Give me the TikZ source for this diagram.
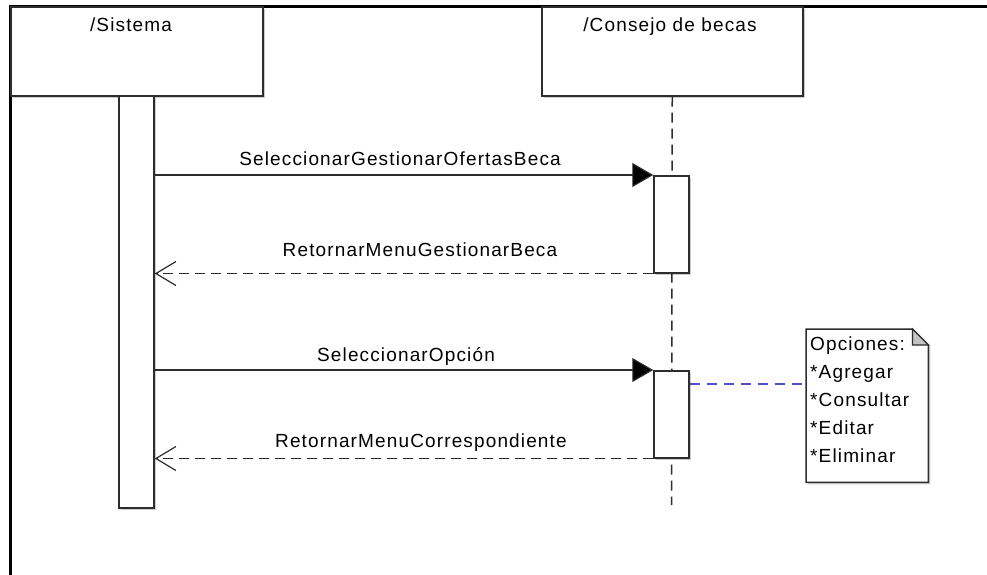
\documentclass[tikz,border=0pt]{standalone}
\usepackage{fontspec}
\setmainfont{Liberation Sans}[LetterSpace=6]
\usetikzlibrary{arrows.meta,shadows}
\definecolor{edge}{RGB}{45,45,45}
\definecolor{notelink}{RGB}{80,80,200}
\definecolor{fold}{RGB}{195,195,195}
\begin{document}
\begin{tikzpicture}[x=1pt,y=-1pt,
  lbl/.style={font=\fontsize{19}{28}\selectfont, inner sep=0pt},
  boxshadow/.style={drop shadow={shadow xshift=2pt, shadow yshift=-2pt, opacity=0.2, fill=black}},
  lifebox/.style={draw=edge, line width=1.5pt, fill=white, inner sep=0pt, boxshadow},
  actbar/.style={draw=edge, line width=1.5pt, fill=white, inner sep=0pt, minimum width=35pt, boxshadow},
  lifeline/.style={draw=edge, line width=1.5pt, dash pattern=on 10pt off 6pt},
  call/.style={draw=edge, line width=1.2pt, -{Triangle[length=21pt,width=24pt,fill=black]}},
  reply/.style={draw=edge, line width=1.2pt, dash pattern=on 10pt off 6pt, -{Straight Barb[length=20pt,width=24pt,line width=1.2pt]}},
  notelinestyle/.style={draw=notelink, line width=1.2pt, dash pattern=on 10pt off 7pt}]
\useasboundingbox (0,0) rectangle (987,574);
\fill[white] (0,0) rectangle (987,574);

% outer frame: left and top sides
\draw[line width=3pt] (10.5,580) -- (10.5,6) -- (995,6);

% participants
\node[lifebox, minimum width=252pt, minimum height=89pt, anchor=north west] (sis) at (10,6) {};
\node[lifebox, minimum width=261pt, minimum height=89pt, anchor=north west] (cons) at (541,6) {};
\node[lbl, anchor=base] (sislbl) at (131,31.5) {/Sistema};
\node[lbl, anchor=base] (conslbl) at (670,31.5) {/Consejo de becas};

% lifeline of the board
\coordinate (consend) at (671.5,505);
\draw[lifeline] (cons.south) -- (consend);

% activation bars
\node[actbar, minimum height=412pt, anchor=north] (sisact) at (136.5,95) {};
\node[actbar, minimum height=97pt, anchor=north] (act1) at (671.5,175) {};
\node[actbar, minimum height=87pt, anchor=north] (act2) at (671.5,370) {};

% messages
\draw[call] (sisact.east |- act1.north west) -- (act1.north west)
  node[lbl, pos=0.492, anchor=base, yshift=10pt] (m1) {SeleccionarGestionarOfertasBeca};
\draw[reply] (act1.south west) -- (sisact.east |- act1.south west)
  node[lbl, pos=0.468, anchor=base, yshift=17pt] (m2) {RetornarMenuGestionarBeca};
\draw[call] (sisact.east |- act2.north west) -- (act2.north west)
  node[lbl, pos=0.504, anchor=base, yshift=9pt] (m3) {SeleccionarOpción};
\draw[reply] (act2.south west) -- (sisact.east |- act2.south west)
  node[lbl, pos=0.466, anchor=base, yshift=11pt] (m4) {RetornarMenuCorrespondiente};

% note with folded corner
\node[minimum width=122pt, minimum height=153pt, inner sep=0pt, anchor=north west] (note) at (806,329) {};
\fill[black, opacity=0.18] ([shift={(2,2)}]note.north west) -- ([shift={(-14,2)}]note.north east) -- ([shift={(2,18)}]note.north east)
  -- ([shift={(2,2)}]note.south east) -- ([shift={(2,2)}]note.south west) -- cycle;
\draw[draw=edge, line width=1.5pt, fill=white] (note.north west) -- ([xshift=-16pt]note.north east) -- ([yshift=-16pt]note.north east)
  -- (note.south east) -- (note.south west) -- cycle;
\draw[draw=edge, line width=1.2pt, fill=fold] ([xshift=-16pt]note.north east) -- ([xshift=-16pt,yshift=-16pt]note.north east) -- ([yshift=-16pt]note.north east) -- cycle;
\node[lbl, align=left, anchor=north west] (notetext) at (810,337)
  {Opciones:\\*Agregar\\*Consultar\\*Editar\\*Eliminar};

% link from the activation to the note
\coordinate (notepin) at (806,384);
\draw[notelinestyle] (act2.east |- notepin) -- (notepin);
\end{tikzpicture}
\end{document}
